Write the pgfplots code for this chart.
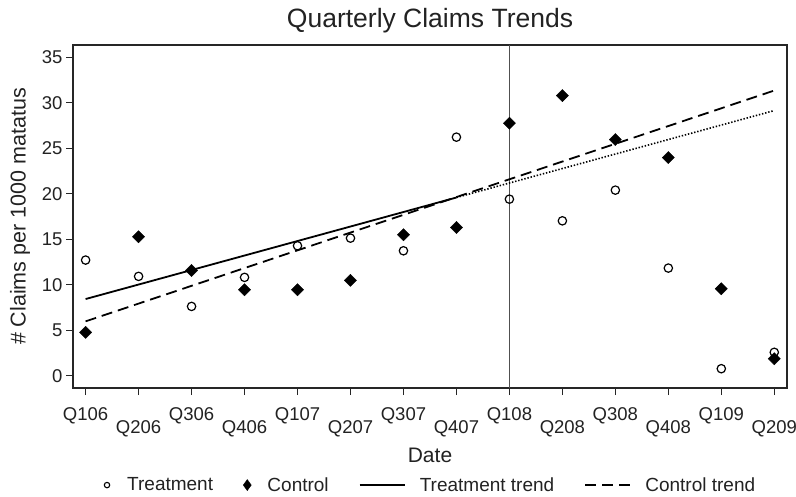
\documentclass[border=0pt]{standalone}
\usepackage{fontspec}
\setmainfont{Liberation Sans}
\usepackage{pgfplots}
\pgfplotsset{compat=1.18}
\definecolor{txt}{HTML}{222222}
\definecolor{vline}{HTML}{505050}
\begin{document}
\begin{tikzpicture}
\begin{axis}[name=ax, scale only axis, width=714bp, height=343bp,
  xmin=-0.238, xmax=13.24, ymin=-1.32, ymax=36.35,
  axis line style={line width=1.1bp, black!85},
  xtick pos=bottom, ytick pos=left,
  tick align=outside, major tick length=7bp,
  tick style={line width=1bp, black!85},
  xtick={0,2,...,12}, xticklabels={Q106,Q306,Q107,Q307,Q108,Q308,Q109},
  extra x ticks={1,3,...,13},
  extra x tick labels={Q206,Q406,Q207,Q407,Q208,Q408,Q209},
  extra x tick style={grid=none, xticklabel style={yshift=-13bp}},
  ytick={0,5,...,35},
  /pgf/number format/assume math mode=true,
  tick label style={font=\fontsize{18.5bp}{21bp}\selectfont, text=txt},
  xticklabel style={anchor=base, yshift=-25bp},
  title={Quarterly Claims Trends},
  title style={at={(0.5,1)}, anchor=base, yshift=12bp, font=\fontsize{26.5bp}{30bp}\selectfont, text=txt},
  xlabel={Date},
  xlabel style={at={(0.5,0)}, anchor=base, yshift=-74bp, font=\fontsize{21bp}{24bp}\selectfont, text=txt},
  ylabel={\# Claims per 1000 matatus},
  ylabel style={at={(0,0.5)}, anchor=center, yshift=53bp, font=\fontsize{21.5bp}{24bp}\selectfont, text=txt},
  legend style={at={(0.5,-0.283)}, anchor=center, draw=none, fill=none,
    font=\fontsize{19bp}{22bp}\selectfont, text=txt, legend columns=4,
    /tikz/every even column/.append style={column sep=28bp}},
]
% vertical reference line at Q108
\addplot[vline, line width=1.5bp, forget plot] coordinates {(8,-1.32) (8,36.35)};
% trends
\addplot[black, line width=1.8bp, forget plot] coordinates {(0,8.45) (7,19.6)};
\addplot[black, line width=1.6bp, dash pattern=on 1.4bp off 1.8bp, forget plot] coordinates {(7,19.6) (13,29.15)};
\addplot[black, line width=1.8bp, dash pattern=on 11bp off 6bp, forget plot] coordinates {(0,6.0) (13,31.35)};
% control
\addplot[only marks, mark=square*, mark size=4.3bp, mark options={rotate=45, fill=black, draw=black}, forget plot]
  coordinates {(0,4.79)(1,15.29)(2,11.59)(3,9.47)(4,9.47)(5,10.50)(6,15.51)(7,16.31)(8,27.76)(9,30.80)(10,25.97)(11,23.99)(12,9.58)(13,1.90)};
% treatment
\addplot[only marks, mark=o, mark size=4.2bp, mark options={line width=1.2bp, draw=black}, forget plot]
  coordinates {(0,12.73)(1,10.94)(2,7.64)(3,10.83)(4,14.30)(5,15.14)(6,13.75)(7,26.23)(8,19.42)(9,17.04)(10,20.41)(11,11.85)(12,0.80)(13,2.60)};
% legend
\addlegendimage{legend image code/.code={\path (0bp,-4bp) (22bp,4bp); \draw[black, line width=1.1bp] (4bp,0bp) circle (2.7bp);}}
\addlegendentry{Treatment}
\addlegendimage{legend image code/.code={\path (0bp,-4bp) (22bp,4bp); \fill[black] (4bp,5.5bp) -- (8bp,0bp) -- (4bp,-5.5bp) -- (0bp,0bp) -- cycle;}}
\addlegendentry{Control}
\addlegendimage{legend image code/.code={\path (0bp,-4bp) (58bp,4bp); \draw[black, line width=1.8bp] (0bp,0bp) -- (45bp,0bp);}}
\addlegendentry{Treatment trend}
\addlegendimage{legend image code/.code={\path (0bp,-4bp) (58bp,4bp); \draw[black, line width=1.8bp, dash pattern=on 11bp off 6bp] (0bp,0bp) -- (45bp,0bp);}}
\addlegendentry{Control trend}
\end{axis}
\pgfresetboundingbox
\path ([shift={(-73bp,-109bp)}]ax.south west) rectangle ([shift={(723bp,388bp)}]ax.south west);
\end{tikzpicture}
\end{document}
